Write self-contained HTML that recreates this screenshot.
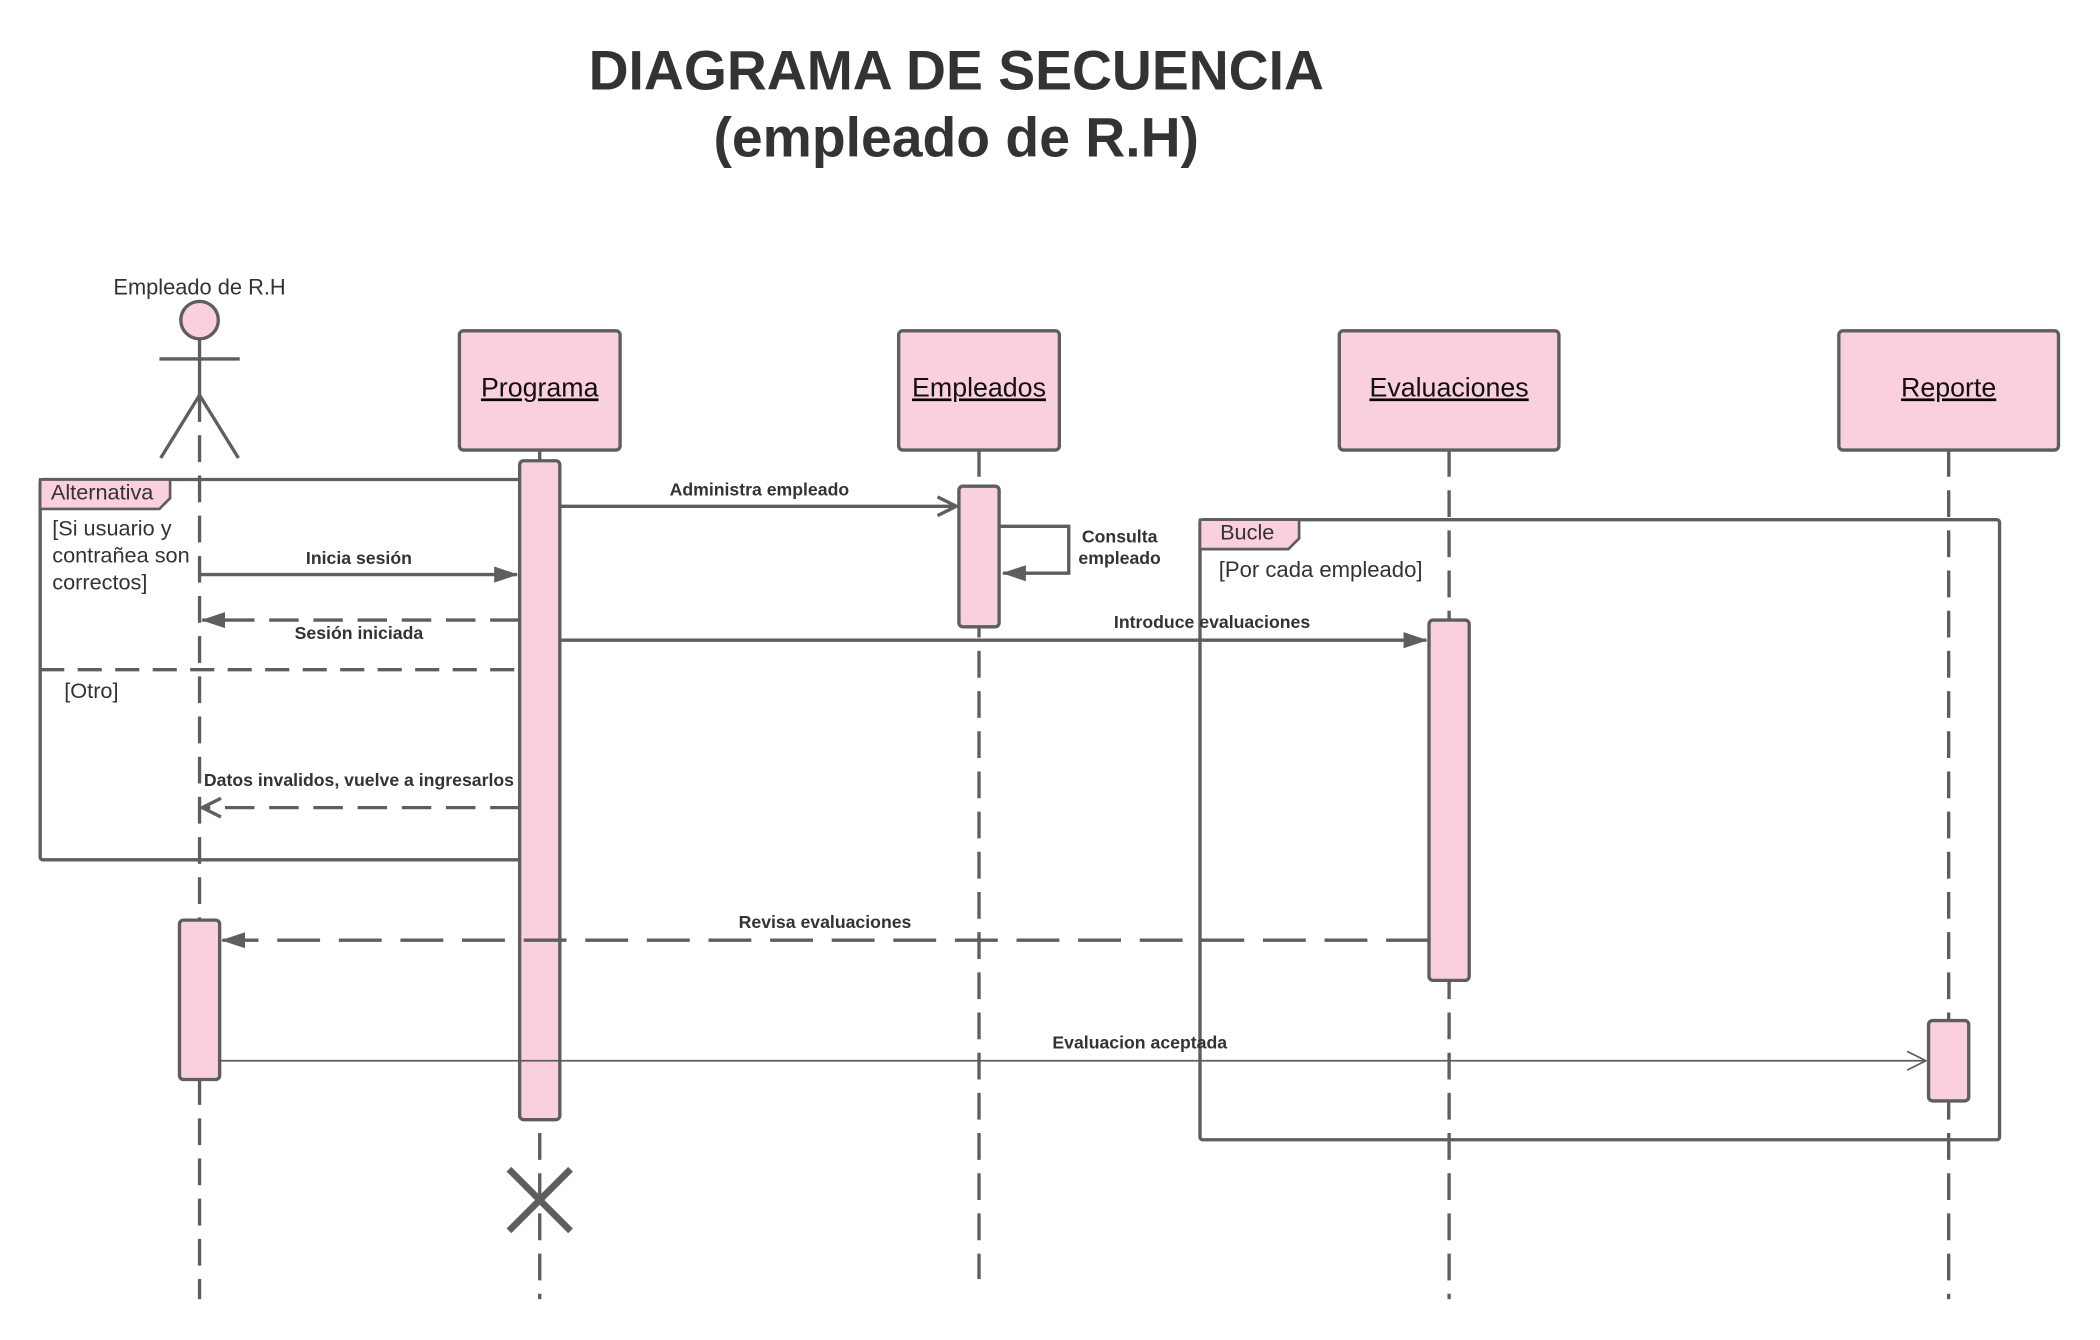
<!DOCTYPE html>
<html><head><meta charset="utf-8"><style>
html,body{margin:0;padding:0;background:#fff;}
svg{display:block;}
text{font-family:"Liberation Sans",Arial,sans-serif;fill:#333;}
.b{font-weight:bold;font-size:13.2px;}
</style></head><body>
<svg width="2100" height="1340" viewBox="0 0 1568 1000.5" xmlns="http://www.w3.org/2000/svg">
<defs>
<marker id="fb" markerWidth="18" markerHeight="14" refX="17" refY="7" orient="auto" markerUnits="userSpaceOnUse" viewBox="0 0 18 14"><path d="M0,1 L18,7 L0,13 z" fill="#5e5e5e"/></marker>
<marker id="oa" markerWidth="18" markerHeight="16" refX="16" refY="8" orient="auto" markerUnits="userSpaceOnUse" viewBox="0 0 18 16"><path d="M2,1 L16,8 L2,15" fill="none" stroke="#5e5e5e" stroke-width="2.5"/></marker>
<marker id="ot" markerWidth="18" markerHeight="16" refX="16" refY="8" orient="auto" markerUnits="userSpaceOnUse" viewBox="0 0 18 16"><path d="M2,1 L16,8 L2,15" fill="none" stroke="#5e5e5e" stroke-width="1.3"/></marker>
</defs>
<text x="714" y="67" text-anchor="middle" font-size="41.3" font-weight="bold">DIAGRAMA DE SECUENCIA</text>
<text x="714" y="117" text-anchor="middle" font-size="41.3" font-weight="bold">(empleado de R.H)</text>

<g stroke="#5e5e5e" stroke-width="2.5" fill="none">
<line x1="149" y1="295" x2="149" y2="970" stroke-dasharray="20,10"/>
<line x1="403" y1="336" x2="403" y2="970" stroke-dasharray="20,10"/>
<line x1="731" y1="336" x2="731" y2="955" stroke-dasharray="20,10"/>
<line x1="1082" y1="336" x2="1082" y2="970" stroke-dasharray="20,10"/>
<line x1="1455" y1="336" x2="1455" y2="970" stroke-dasharray="20,10"/>
<rect x="30" y="358" width="388" height="284" rx="2"/>
<line x1="30" y1="500" x2="388" y2="500" stroke-dasharray="18,10"/>
<rect x="896" y="388" width="597" height="463" rx="2"/>
</g>
<path d="M30,358 H127 V372 L119,380 H30 Z" fill="#f9d0dc" stroke="#5e5e5e" stroke-width="2"/>
<text x="38" y="373" font-size="16.2">Alternativa</text>
<path d="M896,388 H970 V402 L962,410 H896 Z" fill="#f9d0dc" stroke="#5e5e5e" stroke-width="2"/>
<text x="911" y="403" font-size="16.2">Bucle</text>
<text x="39" y="400" font-size="16.2">[Si usuario y</text>
<text x="39" y="420" font-size="16.2">contrañea son</text>
<text x="39" y="440" font-size="16.2">correctos]</text>
<text x="48" y="521" font-size="16.2">[Otro]</text>
<text x="910" y="431" font-size="16.5">[Por cada empleado]</text>

<text x="149" y="220" text-anchor="middle" font-size="16.3">Empleado de R.H</text>
<g stroke="#5e5e5e" stroke-width="2.5" fill="none">
<circle cx="149" cy="239" r="14" fill="#f9d0dc"/>
<line x1="149" y1="253" x2="149" y2="295"/>
<line x1="119" y1="268" x2="179" y2="268"/>
<line x1="149" y1="295" x2="120" y2="342"/>
<line x1="149" y1="295" x2="178" y2="342"/>
</g>

<g fill="#f9d0dc" stroke="#5e5e5e" stroke-width="2.5">
<rect x="343" y="247" width="120" height="89" rx="3"/>
<rect x="671" y="247" width="120" height="89" rx="3"/>
<rect x="1000" y="247" width="164" height="89" rx="3"/>
<rect x="1373" y="247" width="164" height="89" rx="3"/>
<rect x="388" y="344" width="30" height="492" rx="3"/>
<rect x="716" y="363" width="30" height="105" rx="3"/>
<rect x="1067" y="463" width="30" height="269" rx="3"/>
<rect x="134" y="687" width="30" height="119" rx="3"/>
<rect x="1440" y="762" width="30" height="60" rx="3"/>
</g>
<g font-size="20" text-anchor="middle" text-decoration="underline">
<text x="403" y="296" style="fill:#111">Programa</text>
<text x="731" y="296" style="fill:#111">Empleados</text>
<text x="1082" y="296" style="fill:#111">Evaluaciones</text>
<text x="1455" y="296" style="fill:#111">Reporte</text>
</g>

<g stroke="#5e5e5e" fill="none">
<line x1="418" y1="378" x2="714" y2="378" stroke-width="2.5" marker-end="url(#oa)"/>
<path d="M746,393 H798 V428 H749" stroke-width="2.5" marker-end="url(#fb)"/>
<line x1="149" y1="429" x2="386" y2="429" stroke-width="2.5" marker-end="url(#fb)"/>
<line x1="388" y1="463" x2="151" y2="463" stroke-width="2.5" stroke-dasharray="22,11" marker-end="url(#fb)"/>
<line x1="418" y1="478" x2="1065" y2="478" stroke-width="2.5" marker-end="url(#fb)"/>
<line x1="388" y1="603" x2="151" y2="603" stroke-width="2.5" stroke-dasharray="22,11" marker-end="url(#oa)"/>
<line x1="1067" y1="702" x2="166" y2="702" stroke-width="2.5" stroke-dasharray="32,14" marker-end="url(#fb)"/>
<line x1="164" y1="792" x2="1438" y2="792" stroke-width="1.3" marker-end="url(#ot)"/>
<line x1="380" y1="873" x2="426" y2="919" stroke-width="5"/>
<line x1="426" y1="873" x2="380" y2="919" stroke-width="5"/>
</g>
<g text-anchor="middle">
<text class="b" x="567" y="370">Administra empleado</text>
<text class="b" x="836" y="405">Consulta</text>
<text class="b" x="836" y="421">empleado</text>
<text class="b" x="268" y="421">Inicia sesión</text>
<text class="b" x="268" y="477">Sesión iniciada</text>
<text class="b" x="905" y="469">Introduce evaluaciones</text>
<text class="b" x="268" y="587">Datos invalidos, vuelve a ingresarlos</text>
<text class="b" x="616" y="693">Revisa evaluaciones</text>
<text class="b" x="851" y="783">Evaluacion aceptada</text>
</g>
</svg>
</body></html>
